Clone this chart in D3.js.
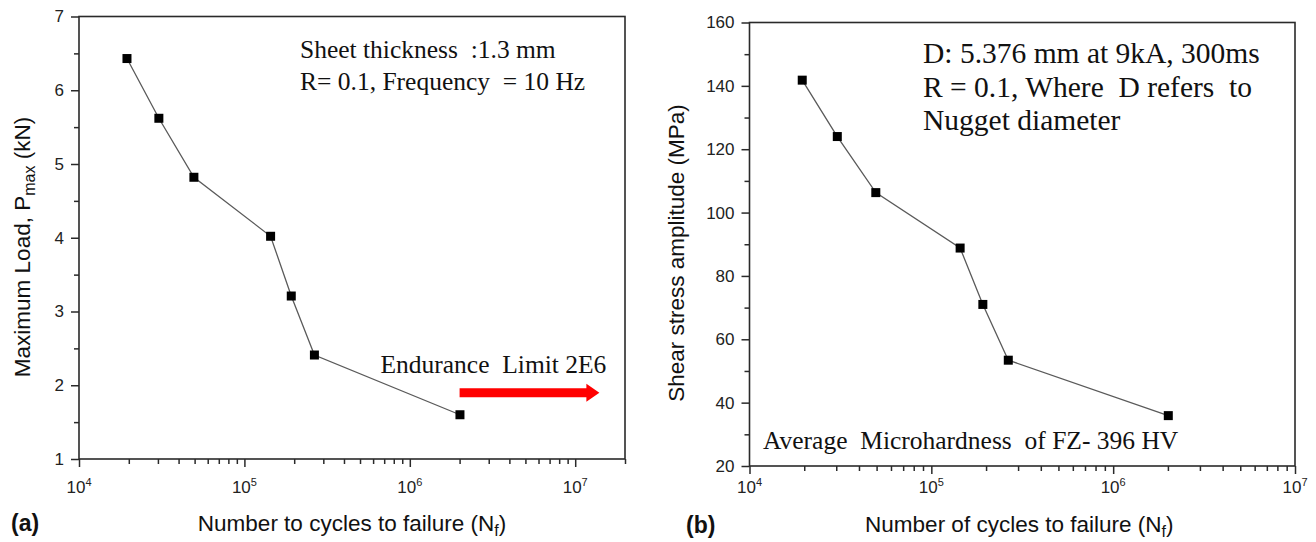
<!DOCTYPE html>
<html>
<head>
<meta charset="utf-8">
<script src="https://cdn.jsdelivr.net/npm/d3@7"></script>
<style>
  body { margin: 0; background: #fff; }
  svg { display: block; }
  .sans { font-family: "Liberation Sans", Arial, sans-serif; }
  .serif { font-family: "Liberation Serif", "Times New Roman", serif; }
</style>
</head>
<body>
<svg id="chart" width="1316" height="542"></svg>
<script>
// Fatigue test results: cycles to failure for each load level
const cycles      = [19500, 30400, 49500, 144000, 192000, 265000, 2010000];
const maxLoad     = [6.43, 5.62, 4.82, 4.02, 3.21, 2.41, 1.60];      // kN
const shearStress = [141.8, 124.0, 106.3, 88.8, 71.0, 53.4, 35.9];   // MPa

// Axis ticks
const loadTicks      = [1, 2, 3, 4, 5, 6, 7];
const loadMinor      = [1.5, 2.5, 3.5, 4.5, 5.5, 6.5];
const stressTicks    = [20, 40, 60, 80, 100, 120, 140, 160];
const stressMinor    = [30, 50, 70, 90, 110, 130, 150];
const cycleExponents = [4, 5, 6, 7];

// Endurance limit arrow (cycles, load)
const enduranceStart = [2000000, 1.9];
const enduranceEnd   = [14000000, 1.9];

const svg = d3.select("#chart");
const AXIS = "#2a2a2a";

function drawPanel(o) {
  const g = svg.append("g");
  const x = d3.scaleLog().domain(o.xDomain).range([o.left, o.right]);
  const y = d3.scaleLinear().domain(o.yDomain).range([o.bottom, o.top]);

  // y ticks (outward)
  const yMinorAxis = d3.axisLeft(y).tickValues(o.yMinor).tickSize(5).tickFormat("").tickSizeOuter(0);
  const yMajorAxis = d3.axisLeft(y).tickValues(o.yTicks).tickSize(8).tickPadding(o.yPad)
    .tickFormat(d3.format("d")).tickSizeOuter(0);
  g.append("g").attr("transform", `translate(${o.left},0)`).style("color", AXIS)
    .call(yMinorAxis).call(s => s.select(".domain").remove())
    .selectAll("line").attr("stroke-width", 1.5);
  const ya = g.append("g").attr("transform", `translate(${o.left},0)`).style("color", AXIS)
    .call(yMajorAxis);
  ya.select(".domain").remove();
  ya.selectAll("line").attr("stroke-width", 1.5);
  ya.selectAll("text").attr("class", "sans").attr("font-size", 17).attr("fill", "#222")
    .attr("font-family", null);

  // x ticks (outward): minor at integer multiples, major at each decade
  const majors = cycleExponents.map(e => Math.pow(10, e));
  const minors = x.ticks().filter(v => !majors.some(m => Math.abs(m - v) < 1e-6 * m));
  const xMinorAxis = d3.axisBottom(x).tickValues(minors).tickSize(5).tickFormat("").tickSizeOuter(0);
  const xMajorAxis = d3.axisBottom(x).tickValues(majors).tickSize(8).tickFormat("").tickSizeOuter(0);
  [xMinorAxis, xMajorAxis].forEach(ax => {
    const a = g.append("g").attr("transform", `translate(0,${o.bottom})`).style("color", AXIS).call(ax);
    a.select(".domain").remove();
    a.selectAll("line").attr("stroke-width", 1.5);
  });
  // decade labels 10^n
  const lbl = g.append("g").attr("class", "sans").attr("fill", "#222")
    .selectAll("text").data(cycleExponents).join("text")
    .attr("x", e => x(Math.pow(10, e)))
    .attr("y", o.bottom + o.xLabelDy)
    .attr("text-anchor", "middle")
    .attr("font-size", 17);
  lbl.append("tspan").text("10");
  lbl.append("tspan").attr("font-size", 11).attr("dy", -7).text(e => e);

  // frame
  g.append("rect")
    .attr("x", o.left).attr("y", o.top)
    .attr("width", o.right - o.left).attr("height", o.bottom - o.top)
    .attr("fill", "none").attr("stroke", AXIS).attr("stroke-width", 1.6);

  // data line and markers
  const pts = cycles.map((c, i) => [c, o.values[i]]);
  g.append("path")
    .datum(pts)
    .attr("fill", "none").attr("stroke", "#5a5a5a").attr("stroke-width", 1.3)
    .attr("d", d3.line().x(d => x(d[0])).y(d => y(d[1])));
  const ms = 9;
  g.selectAll("rect.pt").data(pts).join("rect").attr("class", "pt")
    .attr("x", d => x(d[0]) - ms / 2).attr("y", d => y(d[1]) - ms / 2)
    .attr("width", ms).attr("height", ms).attr("fill", "#000");

  // axis titles
  const xt = g.append("text").attr("class", "sans").attr("font-size", 22.5).attr("fill", "#111")
    .attr("text-anchor", "middle")
    .attr("x", (o.left + o.right) / 2 + o.xTitleShift).attr("y", o.xTitleY);
  xt.append("tspan").text(o.xTitle + " (N");
  xt.append("tspan").attr("font-size", 16).attr("dy", 5).text("f");
  xt.append("tspan").attr("dy", -5).text(")");

  const yt = g.append("text").attr("class", "sans").attr("font-size", 22.5).attr("fill", "#111")
    .attr("text-anchor", "middle")
    .attr("transform", `translate(${o.yTitleX},${o.yTitleY}) rotate(-90)`);
  o.yTitle(yt);

  // panel letter
  g.append("text").attr("class", "sans").attr("font-weight", "bold").attr("font-size", 23)
    .attr("fill", "#111").attr("x", o.letterX).attr("y", o.letterY).text(o.letter);

  return { g, x, y };
}

// (a) Maximum load vs cycles
const A = drawPanel({
  left: 79, right: 625, top: 16.5, bottom: 459,
  xDomain: [1e4, 2e7], yDomain: [1, 7],
  yTicks: loadTicks, yMinor: loadMinor, yPad: 7, xLabelDy: 34,
  values: maxLoad,
  xTitle: "Number to cycles to failure", xTitleShift: 0, xTitleY: 531,
  yTitleX: 30, yTitleY: 247,
  yTitle: t => {
    t.append("tspan").text("Maximum Load, P");
    t.append("tspan").attr("font-size", 16).attr("dy", 5).text("max");
    t.append("tspan").attr("dy", -5).text(" (kN)");
  },
  letter: "(a)", letterX: 11, letterY: 531
});

A.g.append("g").attr("class", "serif").attr("font-size", 25.5).attr("fill", "#111")
  .selectAll("text").data(["Sheet thickness\u00a0 :1.3 mm", "R= 0.1, Frequency \u00a0= 10 Hz"]).join("text")
  .attr("x", 300).attr("y", (d, i) => 58 + i * 32).text(d => d);

A.g.append("text").attr("class", "serif").attr("font-size", 25.5).attr("fill", "#111")
  .attr("x", A.x(enduranceEnd[0]) + 7).attr("y", A.y(enduranceStart[1]) - 20)
  .attr("text-anchor", "end").text("Endurance\u00a0 Limit 2E6");

// red arrow marking the endurance limit
{
  const x0 = A.x(enduranceStart[0]), x1 = A.x(enduranceEnd[0]), yy = A.y(enduranceStart[1]);
  const head = 13, halfShaft = 4.5, halfHead = 9;
  A.g.append("path")
    .attr("fill", "#ff0000")
    .attr("d", `M${x0},${yy - halfShaft} L${x1 - head},${yy - halfShaft} L${x1 - head},${yy - halfHead}
                L${x1},${yy} L${x1 - head},${yy + halfHead} L${x1 - head},${yy + halfShaft} L${x0},${yy + halfShaft} Z`);
}

// (b) Shear stress amplitude vs cycles
const B = drawPanel({
  left: 749.5, right: 1295, top: 22.5, bottom: 466,
  xDomain: [1e4, 1e7], yDomain: [20, 160],
  yTicks: stressTicks, yMinor: stressMinor, yPad: 7, xLabelDy: 27,
  values: shearStress,
  xTitle: "Number of cycles to failure", xTitleShift: -3, xTitleY: 532,
  yTitleX: 684, yTitleY: 253,
  yTitle: t => { t.text("Shear stress amplitude (MPa)"); },
  letter: "(b)", letterX: 686, letterY: 533
});

B.g.append("g").attr("class", "serif").attr("font-size", 29.5).attr("fill", "#111")
  .selectAll("text").data(["D: 5.376 mm at 9kA, 300ms", "R = 0.1, Where\u00a0 D refers\u00a0 to", "Nugget diameter"]).join("text")
  .attr("x", 923).attr("y", (d, i) => 63 + i * 33.5).text(d => d);

B.g.append("text").attr("class", "serif").attr("font-size", 25.5).attr("fill", "#111")
  .attr("x", 763).attr("y", 449).text("Average\u00a0 Microhardness\u00a0 of FZ- 396 HV");
</script>
</body>
</html>
